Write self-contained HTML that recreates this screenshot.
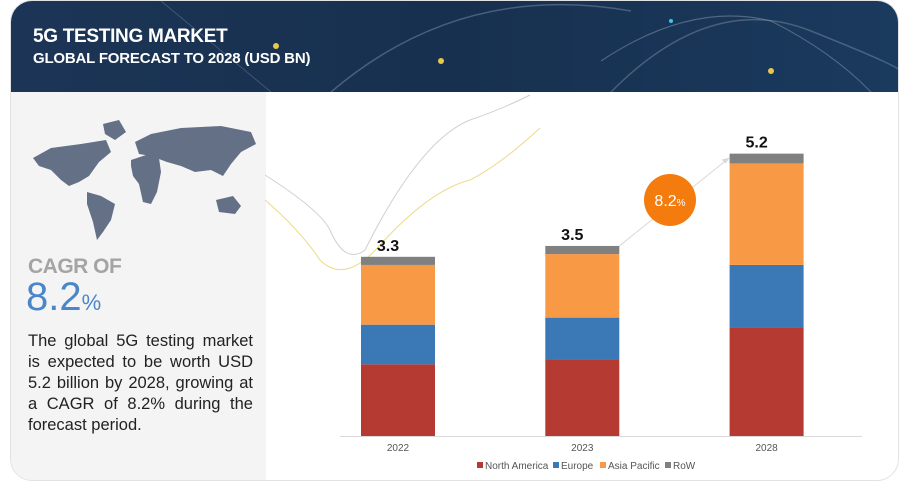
<!DOCTYPE html>
<html><head><meta charset="utf-8"><style>
body{margin:0;width:900px;height:482px;background:#fff;font-family:"Liberation Sans",sans-serif;overflow:hidden;position:relative}
#card{position:absolute;left:10px;top:0;width:887px;height:479px;border:1px solid #e2e2e2;border-radius:22px;overflow:hidden;background:#fff}
#hdr{position:absolute;left:0;top:0;width:887px;height:91px;background:linear-gradient(90deg,#1c3556,#17304f 50%,#1a3a5e);}
#title{position:absolute;left:22px;top:26px;color:#fff;font-weight:bold;font-size:19px;letter-spacing:-0.3px;line-height:20px}
#sub{position:absolute;left:22px;top:49px;color:#fff;font-weight:bold;font-size:15px;letter-spacing:-0.2px}
#left{position:absolute;left:0;top:91px;width:255px;height:388px;background:#f4f4f4}
#cagr{position:absolute;left:17px;top:163px;color:#a4a4a4;font-size:21px;font-weight:bold;letter-spacing:-0.5px}
#big{position:absolute;left:15px;top:183px;color:#4a86c8;font-size:40px;}
#big span{font-size:22px}
#desc{position:absolute;left:17px;top:239px;width:225px;font-size:16.5px;line-height:21px;color:#222;text-align:justify}
</style></head><body>
<div id="card">
<div id="hdr">
<svg width="887" height="91" style="position:absolute;left:0;top:0">
<path d="M320 91 Q450 -20 620 10" stroke="#6a7d94" stroke-width="1.5" fill="none" opacity=".6"/>
<path d="M600 91 Q700 -10 800 30 T887 70" stroke="#7a8aa0" stroke-width="1.5" fill="none" opacity=".5"/>
<path d="M590 60 Q680 0 760 20 Q820 50 860 91" stroke="#8896aa" stroke-width="1.2" fill="none" opacity=".5"/>
<path d="M150 0 L260 91" stroke="#5a6e88" stroke-width="1" opacity=".6"/>
<circle cx="265" cy="45" r="3" fill="#e8c84a"/><circle cx="430" cy="60" r="3" fill="#e8c84a"/><circle cx="760" cy="70" r="3" fill="#e8c84a"/><circle cx="660" cy="20" r="2" fill="#3cc4f0"/>
</svg>
<div id="title">5G TESTING MARKET</div>
<div id="sub">GLOBAL FORECAST TO 2028 (USD BN)</div>
</div>
<div id="left">
<svg width="255" height="160" style="position:absolute;left:0;top:8px" fill="#637085">
<path d="M22 58 L40 48 L70 44 L95 40 L100 52 L88 62 L78 76 L68 82 L58 86 L50 80 L40 70 L28 66Z"/>
<path d="M92 24 L108 20 L115 32 L104 40 L94 34Z"/>
<path d="M76 92 L90 96 L104 104 L100 120 L92 132 L86 140 L82 122 L76 104Z"/>
<path d="M120 60 L138 54 L148 58 L150 72 L146 92 L140 104 L132 102 L128 84 L122 76 L120 66Z"/>
<path d="M124 42 L140 34 L170 28 L210 26 L240 32 L245 44 L230 52 L220 64 L212 76 L200 70 L184 72 L170 66 L156 62 L140 56 L128 54Z"/>
<path d="M205 100 L222 96 L230 106 L224 114 L208 112Z"/>
</svg>
<div id="cagr">CAGR OF</div>
<div id="big">8.2<span>%</span></div>
<div id="desc">The global 5G testing market is expected to be worth USD 5.2 billion by 2028, growing at a CAGR of 8.2% during the forecast period.</div>
</div>
</div>
<svg id="chart" width="900" height="482" style="position:absolute;left:0;top:0"></svg>
<script>
const categories=["2022","2023","2028"];
const northAmerica=[1.32,1.40,2.0];
const europe=[0.73,0.78,1.15];
const asiaPacific=[1.10,1.17,1.87];
const row=[0.15,0.15,0.18];
const totalLabels=["3.3","3.5","5.2"];
const seriesNames=["North America","Europe","Asia Pacific","RoW"];
const colors=["#b43a32","#3a78b6","#f89a45","#808080"];
const NS="http://www.w3.org/2000/svg";
const svg=document.getElementById('chart');
const base=436,scale=54.3,x0=398,step=184.3,bw=74;
const xc=i=>x0+i*step;const y=v=>base-v*scale;
function mk(t,a){const e=document.createElementNS(NS,t);for(const k in a)e.setAttribute(k,a[k]);svg.appendChild(e);return e;}
let c=mk('path',{d:'M265 175 Q320 210 330 230 Q345 265 365 250 Q420 140 470 120 Q500 110 530 95',stroke:'#d0d0d0','stroke-width':1,fill:'none'});


c=mk('path',{d:'M265 200 Q300 230 320 260 Q345 285 380 245 Q430 190 470 180 Q500 165 540 128',stroke:'#ecd98a','stroke-width':1,fill:'none'});


const ax=mk('line',{x1:340,x2:862,y1:base+0.5,y2:base+0.5,stroke:'#d9d9d9','stroke-width':1});


const series=[northAmerica,europe,asiaPacific,row];
categories.forEach((cat,i)=>{
 let acc=0;
 series.forEach((s,j)=>{
  const r=mk('rect',{x:xc(i)-bw/2,y:y(acc+s[i]),width:bw,height:s[i]*scale,fill:colors[j]});
  
  
  acc+=s[i];
 });
 const t=mk('text',{x:xc(i)-10,y:y(acc)-6,'text-anchor':'middle','font-size':16,'font-weight':'bold',fill:'#111','font-family':'Liberation Sans'});
 t.textContent=totalLabels[i];
 
 
 const l=mk('text',{x:xc(i),y:451,'text-anchor':'middle','font-size':10,fill:'#555','font-family':'Liberation Sans'});
 l.textContent=cat;
 
 
});
const t1=northAmerica[1]+europe[1]+asiaPacific[1]+row[1],t2=northAmerica[2]+europe[2]+asiaPacific[2]+row[2];
const ar=mk('line',{x1:xc(1)+bw/2,y1:y(t1),x2:xc(2)-bw/2,y2:y(t2)+4,stroke:'#d8d8d8','stroke-width':1});


const ah=mk('path',{d:`M${xc(2)-bw/2} ${y(t2)+4} l-8 2 l4 4z`,fill:'#d8d8d8'});


const circ=mk('circle',{cx:670,cy:200,r:26,fill:'#f47c0f'});


const bt=mk('text',{x:670,y:206,'text-anchor':'middle',fill:'#fff','font-size':16,'font-family':'Liberation Sans'});
bt.innerHTML='8.2<tspan font-size="10">%</tspan>';


const lx=[485,561,608,673];
seriesNames.forEach((n,j)=>{
 const g=mk('rect',{x:lx[j]-8,y:462,width:6,height:6,fill:colors[j]});
 
 
 const t=mk('text',{x:lx[j],y:469,'font-size':10,fill:'#555','font-family':'Liberation Sans'});
 t.textContent=n;
 
 
});
</script>
</body></html>
